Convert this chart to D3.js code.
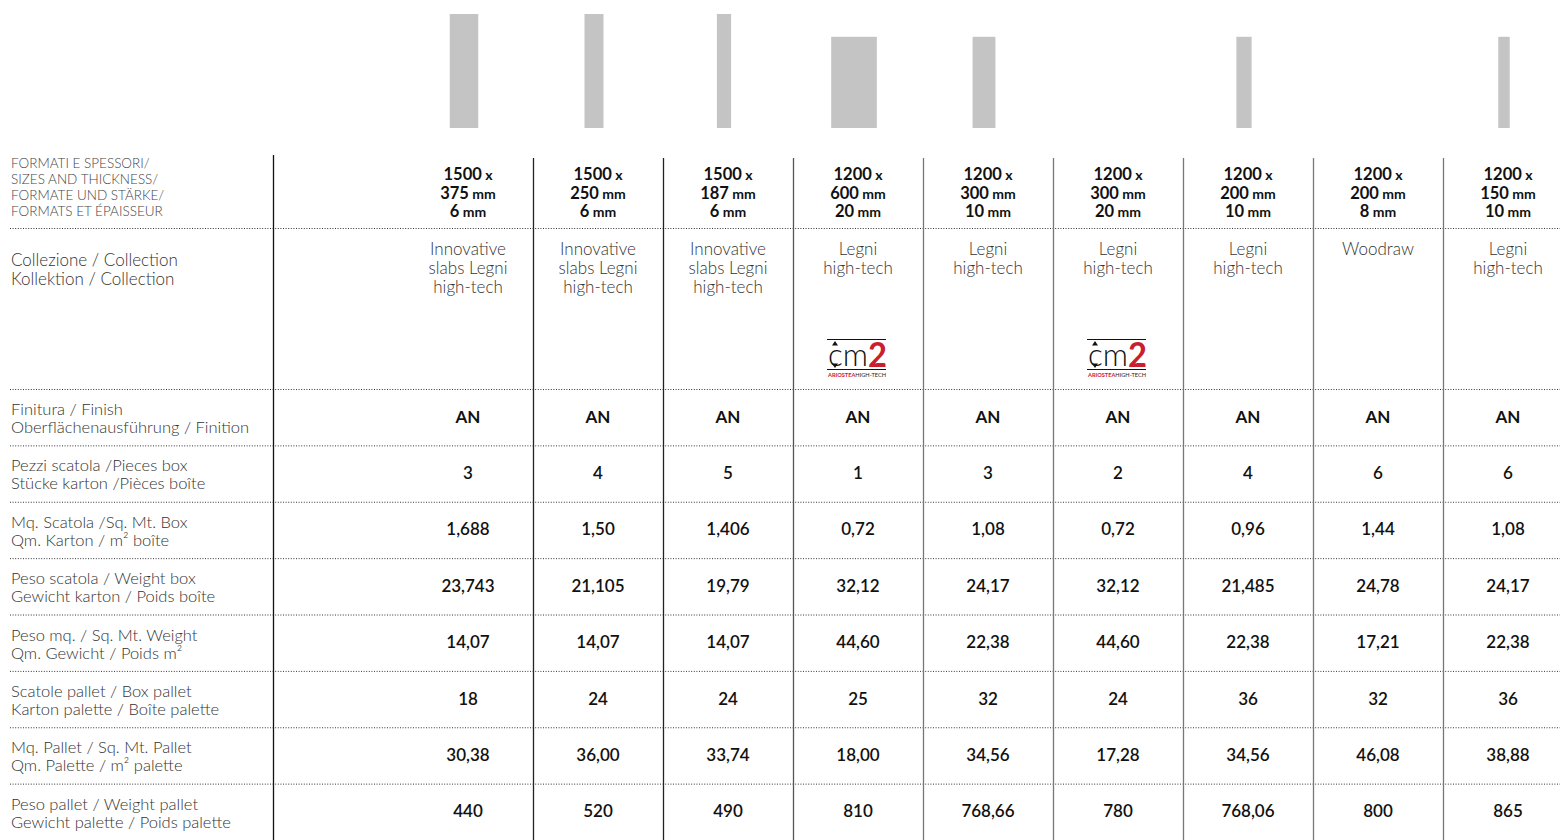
<!DOCTYPE html>
<html>
<head>
<meta charset="utf-8">
<script src="https://cdn.jsdelivr.net/npm/d3@7"></script>
<style>
  body { margin: 0; background: #fff; }
  svg { display: block; font-family: 'Lato', 'Open Sans', sans-serif; }
</style>
</head>
<body>
<svg width="1560" height="840"></svg>
<script>
// tile formats (mm)
const lengths = [1500, 1500, 1500, 1200, 1200, 1200, 1200, 1200, 1200];
const widths = [375, 250, 187, 600, 300, 300, 200, 200, 150];
const thickness = [6, 6, 6, 20, 10, 20, 10, 8, 10];
const showShape = [true, true, true, true, true, false, true, false, true];
const collections = [
  ['Innovative', 'slabs Legni', 'high-tech'],
  ['Innovative', 'slabs Legni', 'high-tech'],
  ['Innovative', 'slabs Legni', 'high-tech'],
  ['Legni', 'high-tech'],
  ['Legni', 'high-tech'],
  ['Legni', 'high-tech'],
  ['Legni', 'high-tech'],
  ['Woodraw'],
  ['Legni', 'high-tech']
];
const hasLogo = [false, false, false, true, false, true, false, false, false];

const rowLabels = [
  ['Finitura / Finish', 'Oberflächenausführung / Finition'],
  ['Pezzi scatola /Pieces box', 'Stücke karton /Pièces boîte'],
  ['Mq. Scatola /Sq. Mt. Box', 'Qm. Karton / m² boîte'],
  ['Peso scatola / Weight box', 'Gewicht karton / Poids boîte'],
  ['Peso mq. / Sq. Mt. Weight', 'Qm. Gewicht / Poids m²'],
  ['Scatole pallet / Box pallet', 'Karton palette / Boîte palette'],
  ['Mq. Pallet / Sq. Mt. Pallet', 'Qm. Palette / m² palette'],
  ['Peso pallet / Weight pallet', 'Gewicht palette / Poids palette']
];
const finish = ['AN', 'AN', 'AN', 'AN', 'AN', 'AN', 'AN', 'AN', 'AN'];
const piecesBox = ['3', '4', '5', '1', '3', '2', '4', '6', '6'];
const sqmBox = ['1,688', '1,50', '1,406', '0,72', '1,08', '0,72', '0,96', '1,44', '1,08'];
const weightBox = ['23,743', '21,105', '19,79', '32,12', '24,17', '32,12', '21,485', '24,78', '24,17'];
const weightSqm = ['14,07', '14,07', '14,07', '44,60', '22,38', '44,60', '22,38', '17,21', '22,38'];
const boxesPallet = ['18', '24', '24', '25', '32', '24', '36', '32', '36'];
const sqmPallet = ['30,38', '36,00', '33,74', '18,00', '34,56', '17,28', '34,56', '46,08', '38,88'];
const weightPallet = ['440', '520', '490', '810', '768,66', '780', '768,06', '800', '865'];
const rowValues = [finish, piecesBox, sqmBox, weightBox, weightSqm, boxesPallet, sqmPallet, weightPallet];

const headerLabel = ['FORMATI  E SPESSORI/', 'SIZES AND THICKNESS/', 'FORMATE UND STÄRKE/', 'FORMATS ET ÉPAISSEUR'];
const collLabel = ['Collezione  / Collection', 'Kollektion  / Collection'];

const svg = d3.select('svg');
const cols = d3.range(lengths.length);

const x = d3.scaleBand().domain(cols).range([403, 1573]);
const cx = i => x(i) + x.bandwidth() / 2;
const rowY = d3.scaleBand().domain(d3.range(rowLabels.length)).range([389, 840]);
const mm = d3.scaleLinear().domain([0, 1500]).range([0, 114]);
const shapeBase = 128;

// tile shapes
svg.append('g').selectAll('rect')
  .data(cols.filter(i => showShape[i]))
  .join('rect')
    .attr('x', i => cx(i) - 4 - mm(widths[i]) / 2)
    .attr('y', i => shapeBase - mm(lengths[i]))
    .attr('width', i => mm(widths[i]))
    .attr('height', i => mm(lengths[i]))
    .attr('fill', '#c4c4c4');

// dotted horizontal rules
const hLines = [228].concat(rowY.domain().map(r => rowY(r)));
svg.append('g').selectAll('line')
  .data(hLines)
  .join('line')
    .attr('x1', 10).attr('x2', 1560)
    .attr('y1', d => d + 0.5).attr('y2', d => d + 0.5)
    .attr('stroke', '#333')
    .attr('stroke-width', 1)
    .attr('stroke-dasharray', '1,1.6');

// vertical separators
const vLines = [{ x: 273, top: 155, c: '#111' }]
  .concat(cols.slice(1).map(i => ({ x: x(i), top: 158, c: i <= 2 ? '#222' : (i === 3 ? '#555' : '#777') })));
svg.append('g').selectAll('line')
  .data(vLines)
  .join('line')
    .attr('x1', d => d.x + 0.5).attr('x2', d => d.x + 0.5)
    .attr('y1', d => d.top).attr('y2', 840)
    .attr('stroke', d => d.c)
    .attr('stroke-width', 1.3);

// left labels
svg.append('g').selectAll('text')
  .data(headerLabel)
  .join('text')
    .attr('x', 11).attr('y', (d, i) => 163 + i * 16)
    .attr('dominant-baseline', 'central')
    .attr('font-size', 13.5).attr('font-weight', 300)
    .attr('fill', '#444')
    .text(d => d);

svg.append('g').selectAll('text')
  .data(collLabel)
  .join('text')
    .attr('x', 11).attr('y', (d, i) => 259 + i * 19)
    .attr('dominant-baseline', 'central')
    .attr('font-size', 17).attr('font-weight', 300)
    .attr('fill', '#333')
    .text(d => d);

const rl = svg.append('g').selectAll('g')
  .data(rowLabels)
  .join('g');
rl.selectAll('text')
  .data((d, r) => d.map((t, k) => ({ t, y: rowY(r) + 20 + k * 18 })))
  .join('text')
    .attr('x', 11).attr('y', d => d.y)
    .attr('dominant-baseline', 'central')
    .attr('font-size', 16.5).attr('font-weight', 300)
    .attr('fill', '#333')
    .text(d => d.t);

// header sizes
const head = svg.append('g').selectAll('g')
  .data(cols)
  .join('g')
    .attr('transform', i => `translate(${cx(i)},0)`)
    .attr('text-anchor', 'middle')
    .attr('fill', '#111');
const headLines = i => [
  [String(lengths[i]), ' x'],
  [String(widths[i]), ' mm'],
  [String(thickness[i]), ' mm']
];
head.each(function(i) {
  const g = d3.select(this);
  headLines(i).forEach((p, k) => {
    const t = g.append('text')
      .attr('y', 174 + k * 18.5)
      .attr('dominant-baseline', 'central');
    t.append('tspan').attr('font-size', 16.5).attr('font-weight', 700).text(p[0]);
    t.append('tspan').attr('font-size', 14).attr('font-weight', 700).text(p[1]);
  });
});

// collections
const coll = svg.append('g').selectAll('g')
  .data(cols)
  .join('g')
    .attr('transform', i => `translate(${cx(i)},0)`);
coll.selectAll('text')
  .data(i => collections[i])
  .join('text')
    .attr('text-anchor', 'middle')
    .attr('y', (d, k) => 248 + k * 19)
    .attr('dominant-baseline', 'central')
    .attr('font-size', 17).attr('font-weight', 300)
    .attr('fill', '#333')
    .text(d => d);

// cm2 logos
const logo = svg.append('g').selectAll('g')
  .data(cols.filter(i => hasLogo[i]))
  .join('g')
    .attr('transform', i => `translate(${cx(i) - 31},339)`);
logo.append('line').attr('x1', 0).attr('x2', 59).attr('y1', 0.5).attr('y2', 0.5).attr('stroke', '#111').attr('stroke-width', 1);
logo.append('line').attr('x1', 0).attr('x2', 59).attr('y1', 30.5).attr('y2', 30.5).attr('stroke', '#111').attr('stroke-width', 1);
logo.append('path').attr('d', 'M8,2 L11,6.5 L5,6.5 Z M8,29 L11,24.5 L5,24.5 Z').attr('fill', '#111');
logo.append('text').attr('x', 1).attr('y', 27)
  .attr('font-size', 32).attr('font-weight', 300).attr('fill', '#111')
  .attr('textLength', 40).attr('lengthAdjust', 'spacingAndGlyphs')
  .attr('font-family', 'Lato, sans-serif').text('cm');
logo.append('text').attr('x', 41).attr('y', 28)
  .attr('font-size', 34).attr('font-weight', 700).attr('fill', '#c8202f')
  .attr('textLength', 19).attr('lengthAdjust', 'spacingAndGlyphs')
  .attr('font-family', 'Lato, sans-serif').text('2');
const tag = logo.append('text').attr('x', 1).attr('y', 37.5)
  .attr('font-size', 5.5).attr('font-family', 'Lato, sans-serif')
  .attr('textLength', 58).attr('lengthAdjust', 'spacingAndGlyphs');
tag.append('tspan').attr('font-weight', 700).attr('fill', '#c8202f').text('ARIOSTEA');
tag.append('tspan').attr('fill', '#222').text('HIGH-TECH');

// body values
const body = svg.append('g').selectAll('g')
  .data(rowValues)
  .join('g')
    .attr('transform', (d, r) => `translate(0,${rowY(r) + rowY.bandwidth() / 2 - 1})`);
body.selectAll('text')
  .data(d => d)
  .join('text')
    .attr('x', (d, i) => cx(i))
    .attr('text-anchor', 'middle')
    .attr('dominant-baseline', 'central')
    .attr('font-size', 17)
    .attr('font-weight', d => d === 'AN' ? 700 : 600)
    .attr('fill', '#111')
    .text(d => d);
</script>
</body>
</html>
